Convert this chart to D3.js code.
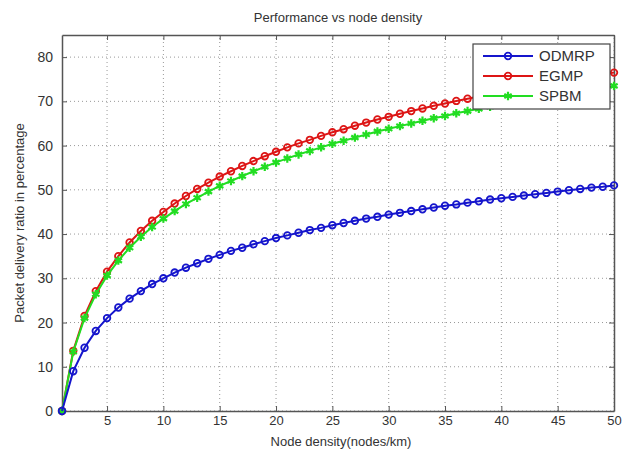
<!DOCTYPE html>
<html><head><meta charset="utf-8">
<script src="https://cdn.jsdelivr.net/npm/d3@7"></script>
<style>body{margin:0;background:#fff}svg text{font-family:"Liberation Sans",Arial,sans-serif;fill:#333}</style>
</head><body>
<script>
const nodeDensity = d3.range(1, 51);
const odmrp = [0,9.0,14.3,18.1,21.0,23.4,25.4,27.1,28.7,30.0,31.3,32.4,33.4,34.4,35.3,36.2,36.9,37.7,38.4,39.1,39.7,40.3,40.9,41.4,42.0,42.5,43.0,43.5,43.9,44.4,44.8,45.2,45.6,46.0,46.4,46.7,47.1,47.4,47.8,48.1,48.4,48.7,49.0,49.3,49.6,49.9,50.2,50.5,50.7,51.0];
const egmp = [0,13.6,21.5,27.1,31.5,35.0,38.1,40.7,43.0,45.0,46.9,48.6,50.2,51.6,53.0,54.2,55.4,56.5,57.6,58.6,59.6,60.5,61.3,62.2,63.0,63.7,64.5,65.2,65.9,66.5,67.2,67.8,68.4,69.0,69.5,70.1,70.6,71.1,71.7,72.2,72.6,73.1,73.6,74.0,74.5,74.9,75.3,75.7,76.1,76.5];
const spbm = [0,13.4,21.0,26.4,30.6,34.0,36.9,39.4,41.6,43.5,45.2,46.8,48.2,49.6,50.9,52.0,53.1,54.2,55.2,56.2,57.1,58.0,58.8,59.6,60.4,61.1,61.8,62.5,63.2,63.8,64.4,65.0,65.6,66.2,66.7,67.3,67.8,68.3,68.8,69.3,69.7,70.2,70.6,71.1,71.5,71.9,72.3,72.7,73.1,73.5];
const xTicks = [5,10,15,20,25,30,35,40,45,50];
const yTicks = [0,10,20,30,40,50,60,70,80];
const seriesNames = ["ODMRP","EGMP","SPBM"];

const W = 636, H = 450;
const m = {l:62, r:22, t:35, b:39};
const svg = d3.select("body").append("svg").attr("width",W).attr("height",H);
const x = d3.scaleLinear().domain([1,50]).range([m.l, W-m.r]);
const y = d3.scaleLinear().domain([0,85]).range([H-m.b, m.t]);
const axisCol = "#555";

// grid
const g = svg.append("g");
g.selectAll(".gx").data(xTicks).join("line")
  .attr("x1",d=>x(d)).attr("x2",d=>x(d)).attr("y1",y(0)).attr("y2",y(85))
  .attr("stroke","#999").attr("stroke-dasharray","1,3").attr("stroke-width",1);
g.selectAll(".gy").data(yTicks).join("line")
  .attr("x1",x(1)).attr("x2",x(50)).attr("y1",d=>y(d)).attr("y2",d=>y(d))
  .attr("stroke","#999").attr("stroke-dasharray","1,3").attr("stroke-width",1);

// axes
const xa = svg.append("g").attr("transform",`translate(0,${y(0)})`)
  .call(d3.axisBottom(x).tickValues(xTicks).tickSizeInner(-5).tickSizeOuter(0).tickPadding(5));
const xt = svg.append("g").attr("transform",`translate(0,${y(85)})`)
  .call(d3.axisTop(x).tickValues(xTicks).tickSizeInner(-5).tickSizeOuter(0).tickFormat(""));
const ya = svg.append("g").attr("transform",`translate(${x(1)},0)`)
  .call(d3.axisLeft(y).tickValues(yTicks).tickSizeInner(-5).tickSizeOuter(0).tickPadding(9));
const yr = svg.append("g").attr("transform",`translate(${x(50)},0)`)
  .call(d3.axisRight(y).tickValues(yTicks).tickSizeInner(-5).tickSizeOuter(0).tickFormat(""));
[xa,xt,ya,yr].forEach(a=>{
  a.selectAll("path").attr("stroke",axisCol).attr("stroke-width",1.5);
  a.selectAll("line").attr("stroke",axisCol);
  a.selectAll("text").attr("font-size",14).attr("fill","#444").attr("font-family","Liberation Sans, Arial, sans-serif");
});
xa.selectAll("text").attr("font-size",13);

// series
const colors = ["#1515cc","#dd1515","#22dd22"];
const data = [odmrp, egmp, spbm];
const line = d3.line().x((d,i)=>x(nodeDensity[i])).y(d=>y(d));
const plot = svg.append("g");
const ordered = [1,2,0];
ordered.forEach(k=>{
  const vals = data[k];
  plot.append("path").datum(vals).attr("d",line).attr("fill","none")
    .attr("stroke",colors[k]).attr("stroke-width",2);
  if (k===2) {
    plot.selectAll(".m"+k).data(vals).join("path")
      .attr("transform",(d,i)=>`translate(${x(nodeDensity[i])},${y(d)})`)
      .attr("d",d3.symbol(d3.symbolAsterisk,50)())
      .attr("fill","none").attr("stroke",colors[k]).attr("stroke-width",2.2);
  } else {
    plot.selectAll(".m"+k).data(vals).join("circle")
      .attr("cx",(d,i)=>x(nodeDensity[i])).attr("cy",d=>y(d)).attr("r",3.3)
      .attr("fill","none").attr("stroke",colors[k]).attr("stroke-width",1.8);
  }
});

// legend
const lg = svg.append("g");
lg.append("rect").attr("x",473).attr("y",44).attr("width",137).attr("height",65)
  .attr("fill","#fff").attr("stroke","#444").attr("stroke-width",1.2);
seriesNames.forEach((n,k)=>{
  const ly = 56 + k*20;
  lg.append("line").attr("x1",483).attr("x2",533).attr("y1",ly).attr("y2",ly)
    .attr("stroke",colors[k]).attr("stroke-width",2);
  if (k===2) {
    lg.append("path").attr("transform",`translate(508,${ly})`)
      .attr("d",d3.symbol(d3.symbolAsterisk,50)()).attr("fill","none").attr("stroke",colors[k]).attr("stroke-width",2.2);
  } else {
    lg.append("circle").attr("cx",508).attr("cy",ly).attr("r",3.3)
      .attr("fill","none").attr("stroke",colors[k]).attr("stroke-width",1.8);
  }
  lg.append("text").attr("x",539).attr("y",ly+5).attr("font-size",15).attr("fill","#444").text(n);
});

// labels
svg.append("text").attr("x",(x(1)+x(50))/2).attr("y",22).attr("text-anchor","middle")
  .attr("font-size",13).text("Performance vs node density");
svg.append("text").attr("x",(x(1)+x(50))/2+3).attr("y",446).attr("text-anchor","middle")
  .attr("font-size",13).text("Node density(nodes/km)");
svg.append("text").attr("transform",`translate(24,${(y(0)+y(85))/2}) rotate(-90)`).attr("text-anchor","middle")
  .attr("font-size",13).text("Packet delivery ratio in percentage");
</script>
</body></html>
